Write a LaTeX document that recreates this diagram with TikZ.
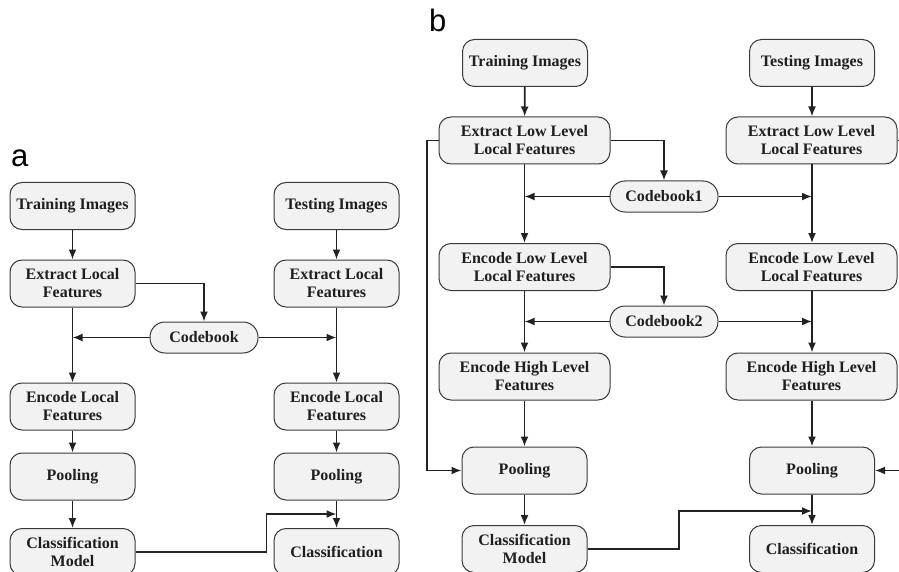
\documentclass[tikz,border=0pt]{standalone}
\usepackage{fontspec}
\setmainfont{Liberation Serif}
\newfontfamily\labelfont{Liberation Sans}
\usetikzlibrary{arrows.meta}
\definecolor{boxfill}{HTML}{F2F2F2}
\definecolor{boxline}{HTML}{3A3A3A}
\definecolor{lineclr}{HTML}{222222}
\tikzset{
  box/.style={draw=boxline, fill=boxfill, line width=1pt, rounded corners=12pt,
    align=center, inner sep=0pt, text=black!88, font=\bfseries\fontsize{16}{18}\selectfont},
  narrow/.style={box, minimum width=125pt, minimum height=47pt},
  wide/.style={box, minimum width=171pt, minimum height=47pt},
  cbox/.style={box, rounded corners=15pt, minimum width=108pt, minimum height=31pt},
  arr/.style={draw=lineclr, line width=1.7pt, -{Latex[length=10pt,width=8pt]}},
  ln/.style={draw=lineclr, line width=1.7pt},
  panel/.style={font=\labelfont\fontsize{31}{31}\selectfont, inner sep=0pt, anchor=base west}
}
\begin{document}
\begin{tikzpicture}[x=1pt,y=-1pt]
\useasboundingbox (0,0) rectangle (899,572);
\clip (0,0) rectangle (899,572);
\fill[white] (0,0) rectangle (899,572);

% labels
\node[panel] (la) at (11,167) {a};
\node[panel] (lb) at (429,32) {b};

% ---------- panel a ----------
\node[narrow] (trA)  at (72.5,206)   {Training Images};
\node[narrow] (teA)  at (336.5,206)  {Testing Images};
\node[narrow] (exA)  at (72.5,283.5) {Extract Local\\Features};
\node[narrow] (exA2) at (336.5,283.5){Extract Local\\Features};
\node[cbox]   (cbA)  at (204,337.5)  {Codebook};
\node[narrow] (enA)  at (72.5,406.5) {Encode Local\\Features};
\node[narrow] (enA2) at (336.5,406.5){Encode Local\\Features};
\node[narrow] (poA)  at (72.5,476.5) {Pooling};
\node[narrow] (poA2) at (336.5,476.5){Pooling};
\node[narrow] (cmA)  at (72.5,552)   {Classification\\Model};
\node[narrow] (clA)  at (336.5,552)  {Classification};

\draw[arr] (trA) -- (exA);
\draw[arr] (teA) -- (exA2);
\draw[arr] (exA) -- (enA);
\draw[arr] (exA2) -- (enA2);
\draw[arr] (exA.east) -| (cbA.north);
\draw[arr] (cbA.west) -- (cbA.west -| exA.south);
\draw[arr] (cbA.east) -- (cbA.east -| exA2.south);
\draw[arr] (enA) -- (poA);
\draw[arr] (enA2) -- (poA2);
\draw[arr] (poA) -- (cmA);
\draw[arr] (poA2) -- (clA);
\coordinate (jA) at (336.5,514);
\draw[arr] (cmA.east) -- ++(131,0) |- (jA);

% ---------- panel b ----------
\node[narrow] (trB)  at (525,63)     {Training Images};
\node[narrow] (teB)  at (812,63)     {Testing Images};
\node[wide]   (exB)  at (524.5,140.5){Extract Low Level\\Local Features};
\node[wide]   (exB2) at (811.5,140.5){Extract Low Level\\Local Features};
\node[cbox]   (cb1)  at (664,196.5)  {Codebook1};
\node[wide]   (enB)  at (524.5,267)  {Encode Low Level\\Local Features};
\node[wide]   (enB2) at (811.5,267)  {Encode Low Level\\Local Features};
\node[cbox]   (cb2)  at (664,321.5)  {Codebook2};
\node[wide]   (ehB)  at (524.5,376.5){Encode High Level\\Features};
\node[wide]   (ehB2) at (811.5,376.5){Encode High Level\\Features};
\node[narrow] (poB)  at (524.5,470.5){Pooling};
\node[narrow] (poB2) at (812,470.5)  {Pooling};
\node[narrow] (cmB)  at (524.5,549)  {Classification\\Model};
\node[narrow] (clB)  at (812,549)    {Classification};

\draw[arr] (trB) -- (exB);
\draw[arr] (teB) -- (teB |- exB2.north);
\draw[arr] (exB) -- (enB);
\draw[arr] (exB2.south -| teB) -- (teB |- enB2.north);
\draw[arr] (exB.east) -| (cb1.north);
\draw[arr] (cb1.west) -- (cb1.west -| exB.south);
\draw[arr] (cb1.east) -- (cb1.east -| teB);
\draw[arr] (enB) -- (ehB);
\draw[arr] (enB2.south -| teB) -- (teB |- ehB2.north);
\draw[arr] (enB.east) -| (cb2.north);
\draw[arr] (cb2.west) -- (cb2.west -| enB.south);
\draw[arr] (cb2.east) -- (cb2.east -| teB);
\draw[arr] (ehB) -- (poB);
\draw[arr] (ehB2.south -| teB) -- (poB2);
\draw[arr] (poB) -- (cmB);
\draw[arr] (poB2) -- (clB);
\coordinate (fbL) at (427,140.5);
\draw[arr] (exB.west) -- (fbL) |- (poB.west);
\coordinate (fbR) at (899,140.5);
\draw[ln] (exB2.east) -- (fbR);
\coordinate (fbR2) at (899,470.5);
\draw[arr] (fbR2) -- (poB2.east);
\coordinate (jB) at (812,511);
\draw[arr] (cmB.east) -- (679,549) |- (jB);
\end{tikzpicture}
\end{document}
